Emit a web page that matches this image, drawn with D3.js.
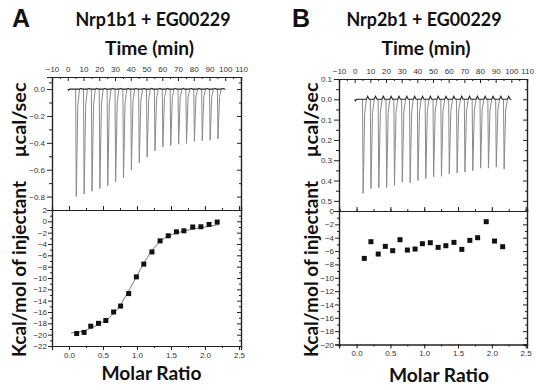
<!DOCTYPE html>
<html>
<head>
<meta charset="utf-8">
<script src="https://cdn.jsdelivr.net/npm/d3@7"></script>
<style>
  body { margin: 0; background: #fff; }
  svg { display: block; }
  .tick text { font-family: "Liberation Sans", Arial, sans-serif; font-size: 8px; fill: #333; }
  .domain, .tick line { stroke: #222; }
  .big { font-family: Lato, "Open Sans", sans-serif; font-weight: 700; fill: #111; }
</style>
</head>
<body>
<div id="chart"></div>
<script>
// injection times (min) and raw heat peaks (ucal/sec)
const injTimes = [5, 10, 15, 20, 25, 30, 35, 40, 45, 50, 55, 60, 65, 70, 75, 80, 85, 90, 95];
const peaksA = [-0.80, -0.78, -0.76, -0.74, -0.72, -0.69, -0.66, -0.60, -0.55, -0.505,
                -0.46, -0.43, -0.42, -0.41, -0.405, -0.39, -0.385, -0.38, -0.37];
const peaksB = [-0.463, -0.439, -0.435, -0.435, -0.424, -0.408, -0.411, -0.40, -0.39, -0.382,
                -0.379, -0.368, -0.363, -0.358, -0.352, -0.339, -0.339, -0.334, -0.344];

// integrated heats (kcal/mol of injectant) vs molar ratio
const ratioA = [0.113, 0.222, 0.32, 0.434, 0.542, 0.656, 0.759, 0.878, 0.991, 1.10,
                1.22, 1.34, 1.46, 1.58, 1.69, 1.82, 1.94, 2.06, 2.18];
const heatA = [-19.8, -19.6, -18.5, -18.0, -17.5, -16.0, -14.95, -12.75, -9.8, -7.55,
               -5.4, -3.45, -2.55, -1.85, -1.67, -1.0, -0.96, -0.55, -0.13];
const fitRatioA = [0.03, 0.2, 0.4, 0.6, 0.7, 0.8, 0.9, 1.0, 1.1, 1.2, 1.3, 1.4, 1.5, 1.7, 1.9, 2.1, 2.2];
const fitHeatA = [-19.7, -19.4, -18.4, -16.9, -15.7, -13.9, -11.8, -9.6, -7.4, -5.5, -4.0, -3.0, -2.4, -1.7, -1.2, -0.8, -0.6];

const ratioB = [0.114, 0.212, 0.32, 0.425, 0.534, 0.642, 0.751, 0.865, 0.973, 1.09,
                1.206, 1.32, 1.44, 1.556, 1.675, 1.79, 1.917, 2.04, 2.16];
const heatB = [-7.1, -4.6, -6.45, -5.3, -5.95, -4.3, -5.85, -5.7, -4.9, -4.75,
               -5.45, -5.2, -4.7, -5.75, -4.4, -4.0, -1.6, -4.5, -5.35];

// tick values
const timeTicks = d3.range(-10, 111, 10);
const ratioTicks = [0, 0.5, 1.0, 1.5, 2.0, 2.5];
const rawTicksA = [0, -0.2, -0.4, -0.6, -0.8];
const rawTicksB = [0.1, 0, -0.1, -0.2, -0.3, -0.4, -0.5];
const heatTicksA = d3.range(2, -23, -2);
const heatTicksB = d3.range(0, -21, -2);

const W = 539, H = 390;
const svg = d3.select("#chart").append("svg").attr("width", W).attr("height", H);

// axis with tick marks only (no label text left behind)
function marks(g, axis) {
  g.call(axis.tickFormat(""));
  g.selectAll("text").remove();
  return g;
}

function panel(cfg) {
  const g = svg.append("g");
  const { left, right, top, mid, bottom } = cfg.box;

  const xt = d3.scaleLinear().domain([-10, 110]).range([left, right]);
  const yr = d3.scaleLinear().domain(cfg.rawDomain).range([mid, top]);
  const xm = d3.scaleLinear().domain(cfg.ratioDomain).range([left, right]);
  const yh = d3.scaleLinear().domain(cfg.heatDomain).range([bottom, mid]);
  const ratioMinor = d3.range(-0.25, 2.6, 0.25);

  // ---------- upper panel: raw thermogram ----------
  marks(g.append("g").attr("transform", `translate(0,${top})`),
    d3.axisTop(xt).tickValues(d3.range(-5, 110, 10)).tickSize(-2));
  g.append("g").attr("transform", `translate(0,${top})`)
    .call(d3.axisTop(xt).tickValues(timeTicks).tickSize(-4).tickPadding(5).tickFormat(d3.format("d")));

  marks(g.append("g").attr("transform", `translate(${left},0)`),
    d3.axisLeft(yr).tickValues(cfg.rawMinor).tickSize(3));
  g.append("g").attr("transform", `translate(${left},0)`)
    .call(d3.axisLeft(yr).tickValues(cfg.rawTicks).tickSize(5).tickPadding(2).tickFormat(cfg.rawFormat));
  marks(g.append("g").attr("transform", `translate(${right},0)`),
    d3.axisRight(yr).tickValues(cfg.rawTicks).tickSize(-4));
  marks(g.append("g").attr("transform", `translate(${right},0)`),
    d3.axisRight(yr).tickValues(cfg.rawMinor).tickSize(-2));

  // spikes
  const spike = d3.line().x(d => xt(d[0])).y(d => yr(d[1]));
  cfg.peaks.forEach((p, i) => {
    const t = injTimes[i];
    g.append("path")
      .attr("d", spike([[t, 0], [t + 0.4, p], [t + 1.4, p * 0.15], [t + 2.5, 0]]))
      .attr("fill", "none").attr("stroke", "#8a8a8a").attr("stroke-width", 1);
  });
  // baseline
  const base = [[0, 0], [0.6, -0.008], [1.2, 0]];
  injTimes.forEach(t => {
    base.push([t, 0], [t + 2.5, 0], [t + 3.3, cfg.hump], [t + 4.2, 0]);
  });
  base.push([100, 0]);
  g.append("path").attr("d", spike(base))
    .attr("fill", "none").attr("stroke", "#222").attr("stroke-width", 1.1);

  // ---------- lower panel: integrated heats ----------
  marks(g.append("g").attr("transform", `translate(0,${mid})`),
    d3.axisBottom(xm).tickValues(ratioMinor).tickSize(-2));
  marks(g.append("g").attr("transform", `translate(0,${mid})`),
    d3.axisBottom(xm).tickValues(ratioTicks).tickSize(-4));
  marks(g.append("g").attr("transform", `translate(0,${bottom})`),
    d3.axisBottom(xm).tickValues(ratioMinor).tickSize(2));
  g.append("g").attr("transform", `translate(0,${bottom})`)
    .call(d3.axisBottom(xm).tickValues(ratioTicks).tickSize(4).tickPadding(2).tickFormat(d3.format(".1f")));

  marks(g.append("g").attr("transform", `translate(${left},0)`),
    d3.axisLeft(yh).tickValues(cfg.heatMinor).tickSize(2));
  g.append("g").attr("transform", `translate(${left},0)`)
    .call(d3.axisLeft(yh).tickValues(cfg.heatTicks).tickSize(4).tickPadding(1).tickFormat(d3.format("d")));
  marks(g.append("g").attr("transform", `translate(${right},0)`),
    d3.axisRight(yh).tickValues(cfg.heatTicks).tickSize(-4));
  marks(g.append("g").attr("transform", `translate(${right},0)`),
    d3.axisRight(yh).tickValues(cfg.heatMinor).tickSize(-2));

  g.selectAll(".domain").attr("stroke-width", 1.2);

  if (cfg.fitX) {
    g.append("path")
      .attr("d", d3.line().curve(d3.curveMonotoneX)
        .x((d, i) => xm(cfg.fitX[i])).y(d => yh(d))(cfg.fitY))
      .attr("fill", "none").attr("stroke", "#777").attr("stroke-width", 1);
  }
  g.selectAll("rect.pt").data(cfg.ratio).enter().append("rect")
    .attr("class", "pt")
    .attr("x", d => xm(d) - 2.5)
    .attr("y", (d, i) => yh(cfg.heat[i]) - 2.5)
    .attr("width", 5).attr("height", 5)
    .attr("fill", "#111");

  // ---------- text ----------
  const cx = (left + right) / 2;
  g.append("text").attr("class", "big").attr("x", cfg.letterX).attr("y", 27)
    .style("font-family", "'Liberation Sans', Arial, sans-serif")
    .attr("font-size", 25).text(cfg.letter);
  g.append("text").attr("class", "big").attr("x", cfg.titleX).attr("y", 26)
    .attr("text-anchor", "middle").attr("font-size", 18)
    .attr("textLength", 155).attr("lengthAdjust", "spacingAndGlyphs").text(cfg.title);
  g.append("text").attr("class", "big").attr("x", cx + cfg.timeDx).attr("y", 55)
    .attr("text-anchor", "middle").attr("font-size", 18)
    .attr("textLength", 89).attr("lengthAdjust", "spacingAndGlyphs").text("Time (min)");
  g.append("text").attr("class", "big").attr("x", cx + cfg.molDx).attr("y", cfg.molY)
    .attr("text-anchor", "middle").attr("font-size", 18)
    .attr("textLength", 100).attr("lengthAdjust", "spacingAndGlyphs").text("Molar Ratio");
  g.append("text").attr("class", "big")
    .attr("transform", `translate(${cfg.ylabX},120) rotate(-90)`)
    .attr("text-anchor", "middle").attr("font-size", 19)
    .attr("textLength", 75).attr("lengthAdjust", "spacingAndGlyphs").text("µcal/sec");
  g.append("text").attr("class", "big")
    .attr("transform", `translate(${cfg.ylabX},269) rotate(-90)`)
    .attr("text-anchor", "middle").attr("font-size", 19)
    .attr("textLength", 176).attr("lengthAdjust", "spacingAndGlyphs").text("Kcal/mol of injectant");
}

panel({
  box: { left: 52, right: 241, top: 77, mid: 210, bottom: 346 },
  rawDomain: [-0.9, 0.09], ratioDomain: [-0.25, 2.53], heatDomain: [-22, 2],
  rawTicks: rawTicksA, rawMinor: [0.05, -0.1, -0.3, -0.5, -0.7],
  rawFormat: d3.format(".1f"),
  heatTicks: heatTicksA, heatMinor: d3.range(1, -22, -2),
  peaks: peaksA, hump: 0.006,
  ratio: ratioA, heat: heatA, fitX: fitRatioA, fitY: fitHeatA,
  letter: "A", letterX: 12, title: "Nrp1b1 + EG00229", titleX: 153,
  timeDx: 3, molDx: 5, molY: 380, ylabX: 26
});

panel({
  box: { left: 339, right: 527, top: 79, mid: 211, bottom: 344.5 },
  rawDomain: [-0.55, 0.1], ratioDomain: [-0.26, 2.52], heatDomain: [-20, 0],
  rawTicks: rawTicksB, rawMinor: d3.range(0.05, -0.56, -0.1),
  rawFormat: d => d3.format(".1f")(Math.abs(d)),
  heatTicks: heatTicksB, heatMinor: d3.range(-1, -20, -2),
  peaks: peaksB, hump: 0.015,
  ratio: ratioB, heat: heatB, fitX: null, fitY: null,
  letter: "B", letterX: 292, title: "Nrp2b1 + EG00229", titleX: 424,
  timeDx: -7, molDx: 6, molY: 382, ylabX: 318
});
</script>
</body>
</html>
